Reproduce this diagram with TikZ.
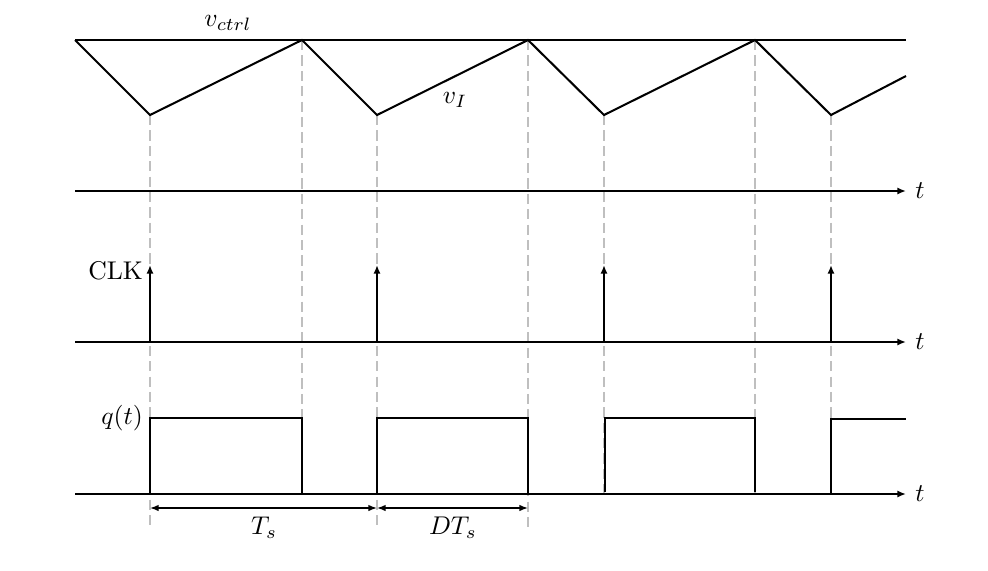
\documentclass[tikz,border=0pt]{standalone}
\usetikzlibrary{arrows.meta}
\begin{document}
\begin{tikzpicture}[x=0.39pt,y=-0.39pt,
  wave/.style={line width=0.8pt,line join=miter},
  axis/.style={line width=0.8pt,-{Latex[length=3.4pt,width=2.8pt]}},
  guide/.style={gray!50,line width=0.6pt,dash pattern=on 4pt off 2pt},
  dim/.style={line width=0.6pt,{Latex[length=3.4pt,width=2.6pt]}-{Latex[length=3.4pt,width=2.6pt]}},
  lbl/.style={inner sep=1pt}]
\useasboundingbox (0,0) rectangle (988,570);
% guide lines
\foreach \x/\ya/\yb in {150/115/530,302/40/494,377/115/530,528/40/530,604/115/494,755/40/494,831/115/494}
  \draw[guide] (\x,\ya) -- (\x,\yb);
% control and triangular waveform
\draw[wave] (75,40) -- (906,40);
\draw[wave] (75,40) -- (150,115) -- (302,40) -- (377,115) -- (528,40) -- (604,115) -- (755,40) -- (831,115) -- (906,76);
\node[lbl] (vctrl) at (228,23) {$v_{ctrl}$};
\node[lbl] (vI) at (455,100) {$v_I$};
% axes
\coordinate (a1s) at (75,191); \coordinate (a1e) at (906,191);
\coordinate (a2s) at (75,342); \coordinate (a2e) at (906,342);
\coordinate (a3s) at (75,494); \coordinate (a3e) at (906,494);
\draw[axis] (a1s) -- (a1e);
\draw[axis] (a2s) -- (a2e);
\draw[axis] (a3s) -- (a3e);
\node[lbl,anchor=west,xshift=2.5pt] (t1) at (a1e) {$t$};
\node[lbl,anchor=west,xshift=2.5pt] (t2) at (a2e) {$t$};
\node[lbl,anchor=west,xshift=2.5pt] (t3) at (a3e) {$t$};
% clock pulses
\foreach \x in {150,377,604,831}
  \draw[axis] (\x,342) -- (\x,265);
\node[lbl,anchor=east] (clk) at (146,271) {CLK};
% q(t)
\draw[wave] (150,494) -- (150,418) -- (302,418) -- (302,494);
\draw[wave] (377,494) -- (377,418) -- (528,418) -- (528,494);
\draw[wave] (605,492) -- (605,418) -- (755,418) -- (755,492);
\draw[wave] (831,494) -- (831,419) -- (906,419);
\node[lbl,anchor=east] (q) at (146,418) {$q(t)$};
% dimensions
\coordinate (d0) at (150,508); \coordinate (d1) at (377,508); \coordinate (d2) at (528,508);
\draw[dim] (d0) -- (d1);
\draw[dim] (d1) -- (d2);
\node[lbl] (Ts) at (264,528) {$T_s$};
\node[lbl] (DTs) at (453,528) {$DT_s$};
\end{tikzpicture}
\end{document}
